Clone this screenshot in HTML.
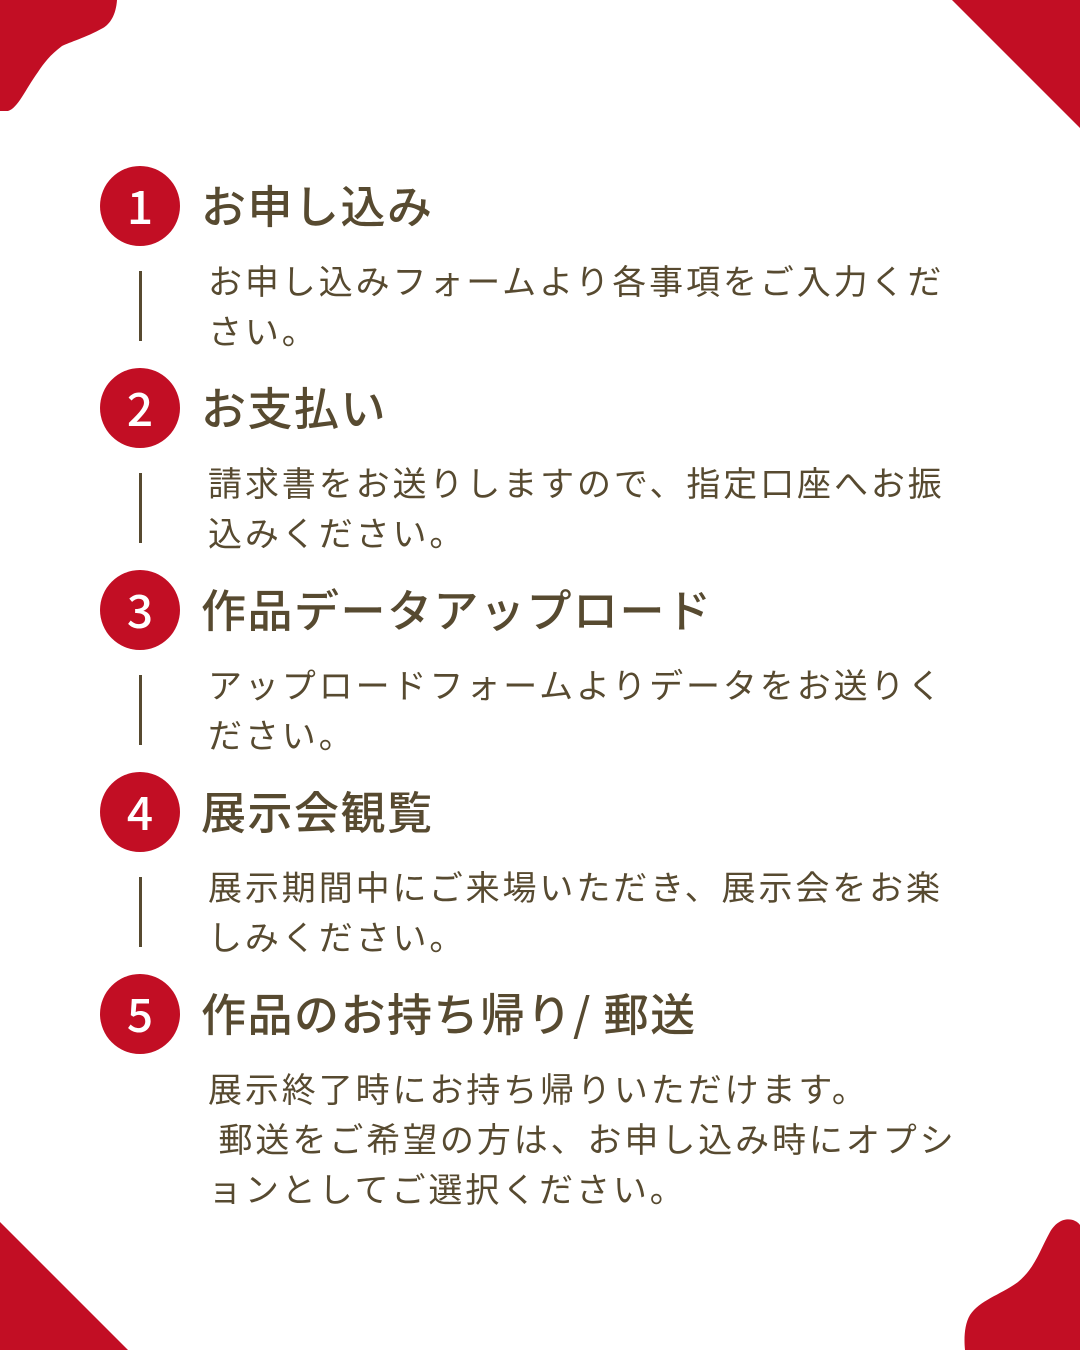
<!DOCTYPE html>
<html><head><meta charset="utf-8"><style>
body{margin:0;width:1080px;height:1350px;position:relative;background:#fff;overflow:hidden;font-family:"Liberation Sans","Noto Sans CJK JP",sans-serif;color:#574a30}
.c{position:absolute;left:100px;width:80px;height:80px;border-radius:50%;background:#c20e24;color:#fff;font-size:46px;line-height:78px;text-align:center;font-family:"Noto Sans CJK JP",sans-serif;font-weight:500}
.h{position:absolute;left:201px;font-size:45px;letter-spacing:1.5px;line-height:60px;white-space:nowrap;font-family:"Noto Sans CJK JP",sans-serif;font-weight:500;margin-top:-3px}
.b{position:absolute;left:208px;font-size:34px;letter-spacing:2.9px;line-height:50px;white-space:nowrap;font-family:"Noto Sans CJK JP",sans-serif;margin-top:-2px}
.v{position:absolute;left:139px;width:3px;height:70px;background:#574a30}
</style></head><body>
<svg width="1080" height="1350" style="position:absolute;left:0;top:0">
<path d="M0 0 L117 0 C116 15 110 24 103 28 C85 38 70 42 62 46 C50 55 44 63 38 72 C25 90 18 108 8 111 L0 111 Z" fill="#c20e24"/>
<path d="M952 0 L1080 0 L1080 128 Z" fill="#c20e24"/>
<path d="M0 1222 L0 1350 L128 1350 Z" fill="#c20e24"/>
<path d="M1080 1350 L1080 1225 C1075 1218 1060 1215 1050 1232 C1040 1250 1035 1268 1018 1282 C1000 1295 980 1300 970 1315 C964 1325 964 1340 965 1350 Z" fill="#c20e24"/>
</svg>
<div class="c" style="top:166px">1</div>
<div class="h" style="top:177px">お申し込み</div>
<div class="v" style="top:271px"></div>
<div class="b" style="top:257px">お申し込みフォームより各事項をご入力くだ</div>
<div class="b" style="top:307px">さい。</div>

<div class="c" style="top:368px">2</div>
<div class="h" style="top:379px">お支払い</div>
<div class="v" style="top:473px"></div>
<div class="b" style="top:459px">請求書をお送りしますので、指定口座へお振</div>
<div class="b" style="top:509px">込みください。</div>

<div class="c" style="top:570px">3</div>
<div class="h" style="top:581px">作品データアップロード</div>
<div class="v" style="top:675px"></div>
<div class="b" style="top:661px">アップロードフォームよりデータをお送りく</div>
<div class="b" style="top:711px">ださい。</div>

<div class="c" style="top:772px">4</div>
<div class="h" style="top:783px">展示会観覧</div>
<div class="v" style="top:877px"></div>
<div class="b" style="top:863px">展示期間中にご来場いただき、展示会をお楽</div>
<div class="b" style="top:913px">しみください。</div>

<div class="c" style="top:974px">5</div>
<div class="h" style="top:985px">作品のお持ち帰り/ 郵送</div>
<div class="b" style="top:1065px">展示終了時にお持ち帰りいただけます。</div>
<div class="b" style="top:1115px">&nbsp;郵送をご希望の方は、お申し込み時にオプシ</div>
<div class="b" style="top:1165px">ョンとしてご選択ください。</div>
</body></html>
